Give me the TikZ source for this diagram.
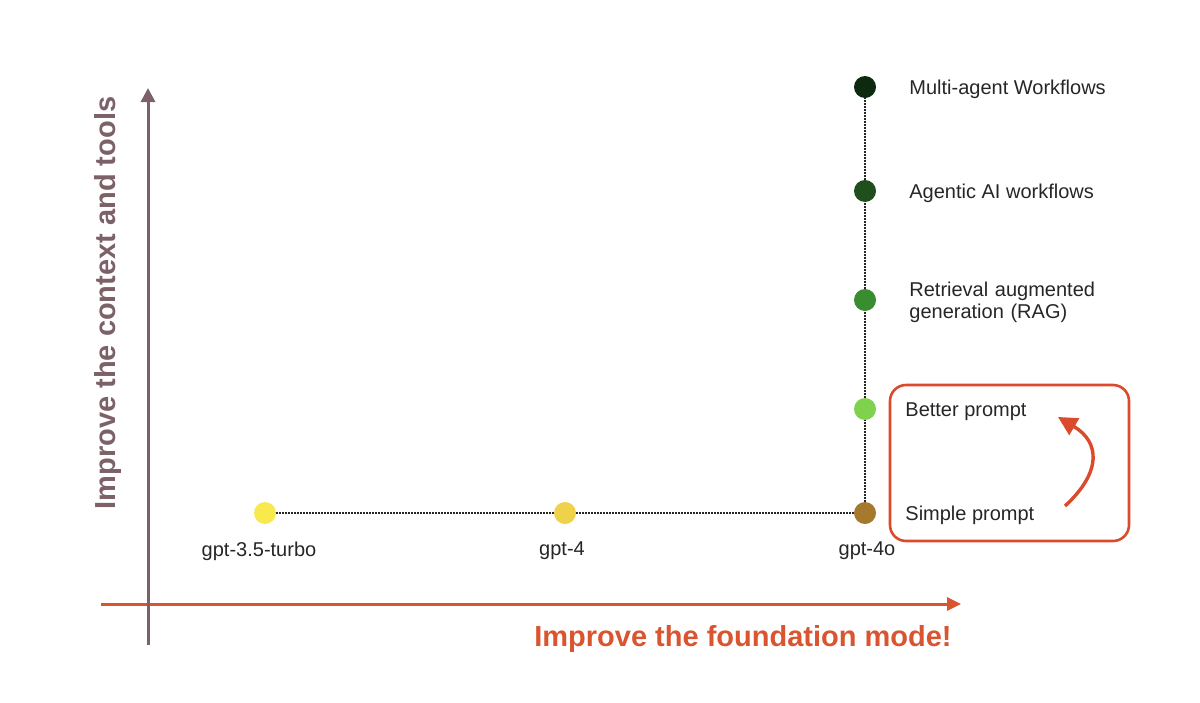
\documentclass[tikz,border=0pt]{standalone}
\usepackage{fontspec}
\setmainfont{Liberation Sans}
\usetikzlibrary{arrows.meta}
\definecolor{mauve}{HTML}{7C6268}
\definecolor{axisred}{HTML}{D9542F}
\definecolor{boxred}{HTML}{DC4A2C}
\definecolor{c35}{HTML}{F8E94E}
\definecolor{c4}{HTML}{EFD14A}
\definecolor{c4o}{HTML}{A67A2C}
\definecolor{cbetter}{HTML}{7ED24E}
\definecolor{crag}{HTML}{3A8C31}
\definecolor{cagentic}{HTML}{1E4F1C}
\definecolor{cmulti}{HTML}{0E2A0E}
\tikzset{
  dotnode/.style={circle,minimum size=11pt,inner sep=0pt},
  lbl/.style={font=\fontsize{10}{12}\selectfont,inner sep=0pt,text=black!85},
  rlbl/.style={lbl,anchor=west,align=left},
  dottedline/.style={line width=0.7pt,dash pattern=on 0.6pt off 0.9pt,black!85},
  axislabel/.style={font=\fontsize{14.5}{16}\selectfont\bfseries,inner sep=0pt}
}
\begin{document}
\begin{tikzpicture}[x=0.5pt,y=-0.5pt]
\useasboundingbox (0,0) rectangle (1200,702);
% axes
\coordinate (ybot) at (148,645);
\coordinate (ytop) at (148,88);
\coordinate (xl) at (101,604);
\coordinate (xr) at (961,604);
\draw[axisred,line width=1.5pt,-{Triangle[length=7pt,width=6.5pt]}] (xl) -- (xr);
\draw[mauve,line width=1.5pt,-{Triangle[length=7pt,width=7pt]}] (ybot) -- (ytop);
\node[axislabel,text=mauve,rotate=90] (ylab) at (108,303) {Improve the context and tools};
\node[axislabel,text=axisred] (xlab) at (743,639) {Improve the foundation mode!};
% dots
\node[dotnode] (g35) at (265,513) {};
\node[dotnode] (g4) at (565,513) {};
\node[dotnode] (g4o) at (865,513) {};
\node[dotnode] (better) at (865,409) {};
\node[dotnode] (rag) at (865,300) {};
\node[dotnode] (agentic) at (865,191) {};
\node[dotnode] (multi) at (865,87) {};
\draw[dottedline] (g35) -- (g4) -- (g4o);
\draw[dottedline] (g4o) -- (better) -- (rag) -- (agentic) -- (multi);
\node[dotnode,fill=c35] at (g35) {};
\node[dotnode,fill=c4] at (g4) {};
\node[dotnode,fill=c4o] at (g4o) {};
\node[dotnode,fill=cbetter] at (better) {};
\node[dotnode,fill=crag] at (rag) {};
\node[dotnode,fill=cagentic] at (agentic) {};
\node[dotnode,fill=cmulti] at (multi) {};
% bottom labels
\node[lbl] (l35) at (259,551) {gpt-3.5-turbo};
\node[lbl] (l4) at (562,551) {gpt-4};
\node[lbl] (l4o) at (867,551) {gpt-4o};
% right labels
\node[rlbl] (lmulti) at (909,89.5) {Multi-agent Workflows};
\node[rlbl] (lagentic) at (909,193.5) {Agentic AI workflows};
\node[rlbl,text width=120pt] (lrag) at (909,302.5) {Retrieval augmented\\[-1.2pt]generation (RAG)};
\node[rlbl] (lbetter) at (905,411.5) {Better prompt};
\node[rlbl] (lsimple) at (905,515.5) {Simple prompt};
% red box
\node[draw=boxred,line width=1.3pt,rounded corners=8pt,minimum width=119.5pt,minimum height=78pt,inner sep=0pt] (box) at (1009.5,463) {};
\coordinate (astart) at (1065,506);
\coordinate (aend) at (1058,417);
\draw[boxred,line width=1.7pt,-{Triangle[length=9.5pt,width=9.5pt]}] (astart) .. controls (1102,472) and (1100,442) .. (aend);
\end{tikzpicture}
\end{document}
